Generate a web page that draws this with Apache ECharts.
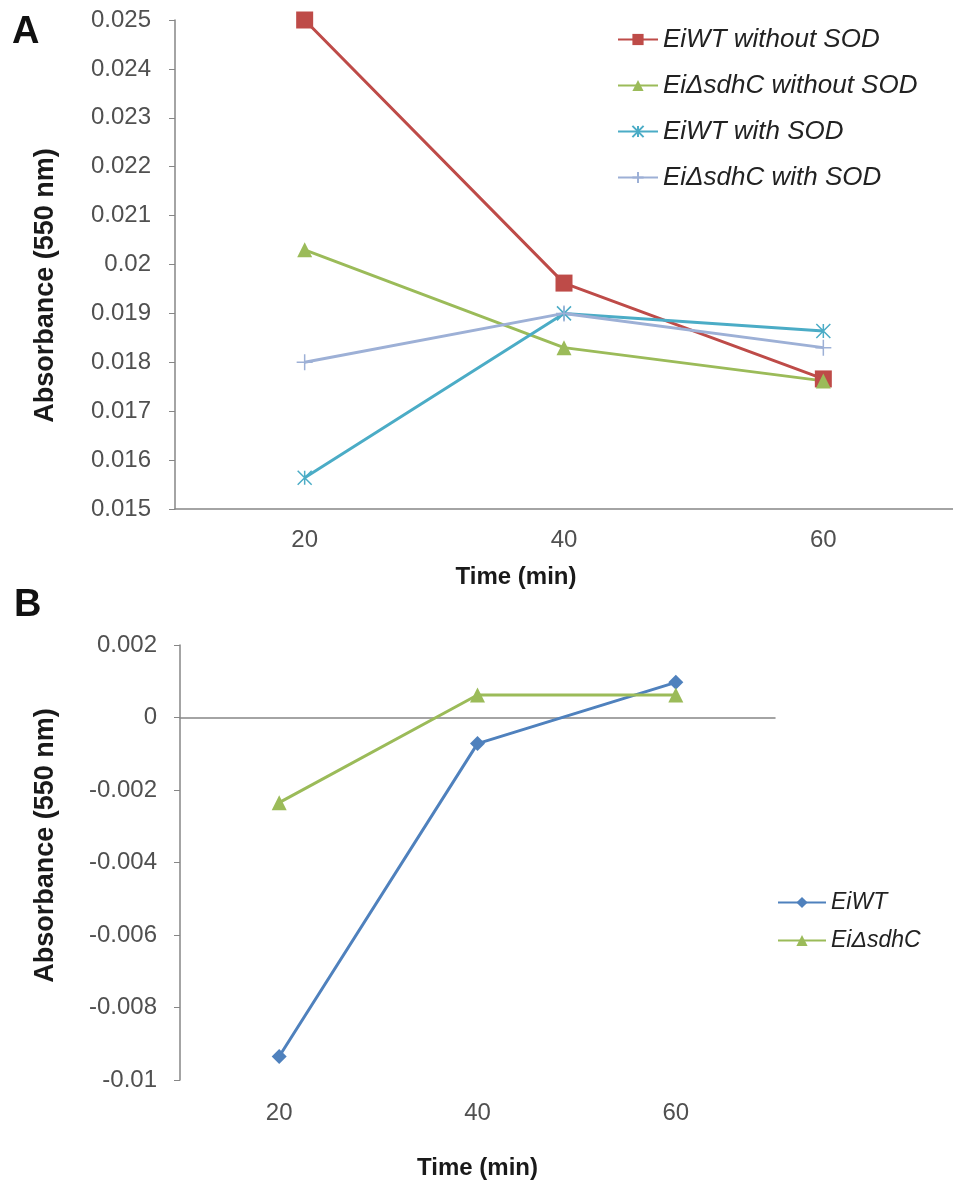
<!DOCTYPE html>
<html><head><meta charset="utf-8">
<script src="https://cdn.jsdelivr.net/npm/echarts@6/dist/echarts.min.js"></script>
<style>html,body{margin:0;padding:0;background:#fff}#c{width:953px;height:1185px}</style>
</head><body><div id="c"></div>
<script>
const categories = ['20', '40', '60'];
const namesA = ['EiWT without SOD', 'EiΔsdhC without SOD', 'EiWT with SOD', 'EiΔsdhC with SOD'];
const wtWithoutSOD = [0.025, 0.01962, 0.01766];
const sdhWithoutSOD = [0.02030, 0.01830, 0.01762];
const wtWithSOD = [0.01564, 0.01900, 0.01864];
const sdhWithSOD = [0.01800, 0.01900, 0.01830];
const namesB = ['EiWT', 'EiΔsdhC'];
const wtDiff = [-0.00935, -0.00072, 0.00097];
const sdhDiff = [-0.00235, 0.00062, 0.00062];

const FONT = 'Liberation Sans';
const axisCol = '#868686';
const labelStyle = {color: '#505050', fontSize: 24, fontFamily: FONT};
const ASTER = 'path://M0,0L10,10M10,0L0,10M5,0L5,10';
const PLUS = 'path://M5,0L5,10M0,5L10,5';

function ser(name, data, color, symbol, size, xi, yi, stroke) {
  return {
    type: 'line', name: name, data: data, xAxisIndex: xi, yAxisIndex: yi,
    symbol: symbol, symbolSize: size, showSymbol: true,
    lineStyle: {color: color, width: 3},
    itemStyle: stroke ? {color: color, borderColor: color, borderWidth: 1.5} : {color: color, borderWidth: 0},
    animation: false
  };
}

const chart = echarts.init(document.getElementById('c'), null, {renderer: 'canvas'});
chart.setOption({
  backgroundColor: '#fff',
  animation: false,
  graphic: [
    {type: 'text', left: 12, top: 14, style: {text: 'A', fontSize: 38, fontWeight: 'bold', fontFamily: FONT, fill: '#111'}},
    {type: 'text', left: 14, top: 587, style: {text: 'B', fontSize: 38, fontWeight: 'bold', fontFamily: FONT, fill: '#111'}}
  ],
  grid: [
    {left: 175, top: 20, right: -5, bottom: 676},
    {left: 180, top: 645, right: 178, bottom: 105}
  ],
  legend: [
    {data: namesA, orient: 'vertical', left: 612, top: 21, itemGap: 19, itemWidth: 40, itemHeight: 14,
     textStyle: {fontSize: 26, lineHeight: 27, fontStyle: 'italic', color: '#222', fontFamily: FONT}},
    {data: namesB, orient: 'vertical', left: 772, top: 886, itemGap: 15, itemWidth: 48, itemHeight: 14,
     textStyle: {fontSize: 23, lineHeight: 23, fontStyle: 'italic', color: '#222', fontFamily: FONT}}
  ],
  xAxis: [
    {type: 'category', gridIndex: 0, data: categories, boundaryGap: true,
     axisLine: {lineStyle: {color: axisCol, width: 1.5}}, axisTick: {length: 6, lineStyle: {color: axisCol}},
     axisLabel: Object.assign({margin: 19}, labelStyle),
     name: 'Time (min)', nameLocation: 'middle', nameGap: 56,
     nameTextStyle: {color: '#1a1a1a', fontSize: 24, fontWeight: 'bold', fontFamily: FONT, padding: [0, 96, 0, 0]}},
    {type: 'category', gridIndex: 1, data: categories, boundaryGap: true, position: 'bottom',
     axisLine: {onZero: true, lineStyle: {color: axisCol, width: 1.5}}, axisTick: {length: 6, lineStyle: {color: axisCol}},
     axisLabel: {show: false}},
    {type: 'category', gridIndex: 1, data: categories, boundaryGap: true, position: 'bottom',
     axisLine: {show: false, onZero: false}, axisTick: {show: false},
     axisLabel: Object.assign({margin: 21}, labelStyle),
     name: 'Time (min)', nameLocation: 'middle', nameGap: 76,
     nameTextStyle: {color: '#1a1a1a', fontSize: 24, fontWeight: 'bold', fontFamily: FONT}}
  ],
  yAxis: [
    {type: 'value', gridIndex: 0, min: 0.015, max: 0.025, interval: 0.001,
     axisLine: {show: true, lineStyle: {color: axisCol, width: 1.5}}, axisTick: {show: true, length: 6, lineStyle: {color: axisCol}},
     splitLine: {show: false}, axisLabel: Object.assign({margin: 24}, labelStyle),
     name: 'Absorbance (550 nm)', nameLocation: 'middle', nameGap: 116,
     nameTextStyle: {color: '#1a1a1a', fontSize: 27, fontWeight: 'bold', fontFamily: FONT, padding: [0, 42, 0, 0]}},
    {type: 'value', gridIndex: 1, min: -0.01, max: 0.002, interval: 0.002,
     axisLine: {show: true, onZero: false, lineStyle: {color: axisCol, width: 1.5}}, axisTick: {show: true, length: 6, lineStyle: {color: axisCol}},
     splitLine: {show: false}, axisLabel: Object.assign({margin: 23}, labelStyle),
     name: 'Absorbance (550 nm)', nameLocation: 'middle', nameGap: 121,
     nameTextStyle: {color: '#1a1a1a', fontSize: 27, fontWeight: 'bold', fontFamily: FONT, padding: [0, 0, 0, 34]}}
  ],
  series: [
    ser(namesA[0], wtWithoutSOD, '#BE4B48', 'rect', 17, 0, 0, false),
    ser(namesA[1], sdhWithoutSOD, '#9BBB59', 'triangle', 15, 0, 0, false),
    ser(namesA[2], wtWithSOD, '#4BACC6', ASTER, 14, 0, 0, true),
    ser(namesA[3], sdhWithSOD, '#9DB0D6', PLUS, 16, 0, 0, true),
    ser(namesB[0], wtDiff, '#4F81BD', 'diamond', 15, 1, 1, false),
    ser(namesB[1], sdhDiff, '#9BBB59', 'triangle', 15, 1, 1, false)
  ]
});
</script></body></html>
